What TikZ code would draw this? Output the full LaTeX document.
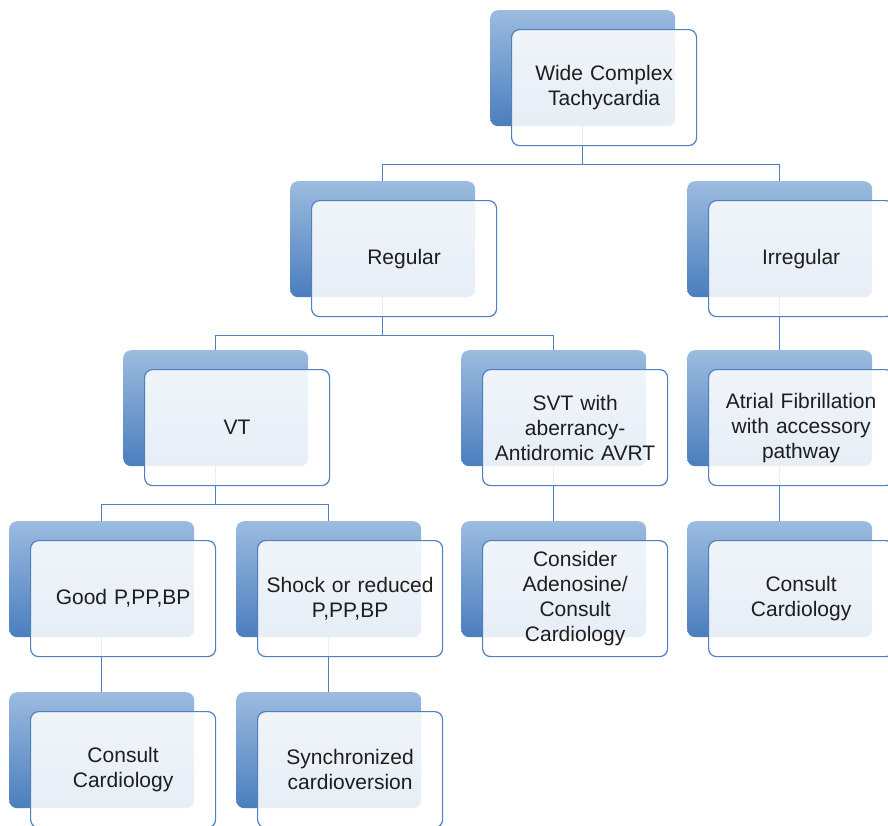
\documentclass[tikz,border=0pt]{standalone}
\usepackage{fontspec}
\setmainfont{Liberation Sans}
\usetikzlibrary{backgrounds,calc}
\definecolor{bktop}{HTML}{9CBBDF}
\definecolor{bkbot}{HTML}{4A7EBE}
\definecolor{edge}{HTML}{4F81BD}
\definecolor{txt}{HTML}{1E1E1E}
\tikzset{
  backbox/.style={rectangle, rounded corners=8pt, minimum width=185pt, minimum height=116pt,
    inner sep=0pt, top color=bktop, bottom color=bkbot, draw=none, anchor=north west},
  frontbox/.style={rectangle, rounded corners=8pt, minimum width=185pt, minimum height=116pt,
    inner sep=0pt, draw=edge, line width=1.2pt, fill=white, fill opacity=0.87, text opacity=1,
    text width=180pt, align=center, anchor=north west, text=txt,
    font=\fontsize{21pt}{25pt}\selectfont},
  conn/.style={draw=edge, line width=1.3pt}
}
\newcommand\mkunit[4]{%
  \node[backbox] (#1b) at (#2,#3) {};
  \node[frontbox] (#1f) at (#2+21,#3+19) {#4};
}
\newcommand\link[2]{%
  \draw[conn] (#1b.south) |- ($(#1b.south |- #1f.south)+(0,18)$) -| (#2b.north);
}
\begin{document}
\begin{tikzpicture}[x=1pt,y=-1pt]
\useasboundingbox (0,0) rectangle (888,825);
\clip (0,0) rectangle (888,825);
\mkunit{wct}{490}{10}{Wide Complex\\Tachycardia}
\mkunit{reg}{290}{181}{Regular}
\mkunit{irr}{687}{181}{Irregular}
\mkunit{vt}{123}{350}{VT}
\mkunit{svt}{461}{350}{SVT with\\aberrancy-\\Antidromic AVRT}
\mkunit{af}{687}{350}{Atrial Fibrillation\\with accessory\\pathway}
\mkunit{good}{9}{521}{Good P,PP,BP}
\mkunit{shock}{236}{521}{Shock or reduced\\P,PP,BP}
\mkunit{cons}{461}{521}{Consider\\Adenosine/\\Consult\\Cardiology}
\mkunit{cardr}{687}{521}{Consult\\Cardiology}
\mkunit{cardl}{9}{692}{Consult\\Cardiology}
\mkunit{sync}{236}{692}{Synchronized\\cardioversion}
\begin{pgfonlayer}{background}
\link{wct}{reg}
\link{wct}{irr}
\link{reg}{vt}
\link{reg}{svt}
\link{irr}{af}
\link{vt}{good}
\link{vt}{shock}
\link{svt}{cons}
\link{af}{cardr}
\link{good}{cardl}
\link{shock}{sync}
\end{pgfonlayer}
\end{tikzpicture}
\end{document}
